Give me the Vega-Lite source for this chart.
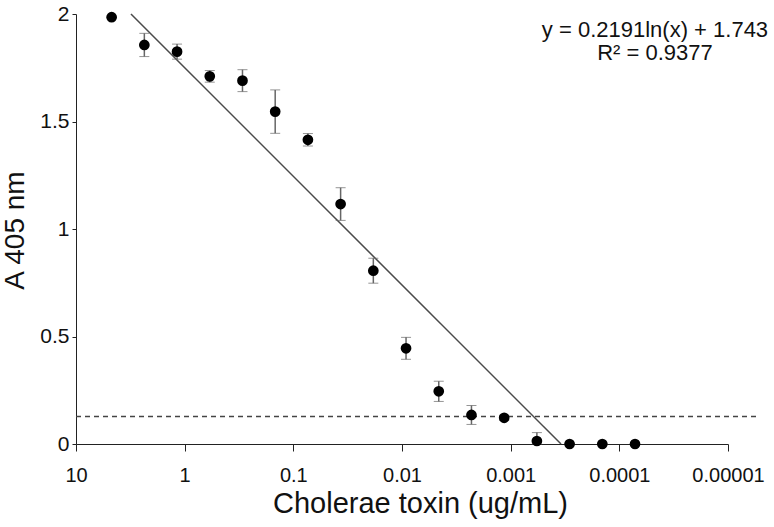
{
  "$schema": "https://vega.github.io/schema/vega-lite/v6.json",
  "width": 652,
  "height": 430,
  "autosize": "none",
  "padding": {"left": 76, "top": 14, "right": 46, "bottom": 83},
  "background": "white",
  "config": {
    "view": {"stroke": null},
    "font": "Liberation Sans",
    "axis": {"grid": false, "domainColor": "#222", "tickColor": "#222", "labelColor": "#111", "titleColor": "#111", "labelFont": "Liberation Sans", "titleFont": "Liberation Sans", "titleFontWeight": "normal"}
  },
  "data": {
    "values": [
      {"conc": 4.7, "a405": 1.985, "err": 0},
      {"conc": 2.35, "a405": 1.856, "err": 0.054},
      {"conc": 1.175, "a405": 1.825, "err": 0.035},
      {"conc": 0.5875, "a405": 1.71, "err": 0.027},
      {"conc": 0.29375, "a405": 1.69, "err": 0.051},
      {"conc": 0.146875, "a405": 1.546, "err": 0.101},
      {"conc": 0.0734375, "a405": 1.415, "err": 0.029},
      {"conc": 0.03671875, "a405": 1.116, "err": 0.076},
      {"conc": 0.018359375, "a405": 0.806, "err": 0.058},
      {"conc": 0.0091796875, "a405": 0.445, "err": 0.051},
      {"conc": 0.00458984375, "a405": 0.245, "err": 0.047},
      {"conc": 0.002294921875, "a405": 0.135, "err": 0.044},
      {"conc": 0.0011474609375, "a405": 0.122, "err": 0.012},
      {"conc": 0.00057373046875, "a405": 0.014, "err": 0.039},
      {"conc": 0.000286865234375, "a405": 0, "err": 0},
      {"conc": 0.0001434326171875, "a405": 0, "err": 0},
      {"conc": 0.00007171630859375, "a405": 0, "err": 0}
    ]
  },
  "layer": [
    {
      "data": {"values": [{"cutoff": 0.128}]},
      "mark": {"type": "rule", "strokeDash": [5, 4], "color": "#444", "strokeWidth": 1.6, "clip": false},
      "encoding": {
        "x": {"datum": 10, "type": "quantitative", "scale": {"type": "log", "domain": [0.00001, 10], "reverse": true}, "title": "Cholerae toxin (ug/mL)"},
        "x2": {"datum": 0.0000054},
        "y": {"field": "cutoff", "type": "quantitative", "title": "A 405 nm"}
      }
    },
    {
      "data": {"values": [{"conc": 3.12, "fit": 2.0}, {"conc": 0.000344, "fit": 0}]},
      "mark": {"type": "line", "color": "#4a4a4a", "strokeWidth": 1.5},
      "encoding": {
        "x": {"field": "conc", "type": "quantitative", "title": "Cholerae toxin (ug/mL)"},
        "y": {"field": "fit", "type": "quantitative", "title": "A 405 nm"}
      }
    },
    {
      "mark": {"type": "errorbar", "color": "#666", "ticks": {"size": 10, "color": "#666"}, "rule": {"strokeWidth": 1.5}},
      "encoding": {
        "x": {"field": "conc", "type": "quantitative", "title": "Cholerae toxin (ug/mL)"},
        "y": {"field": "a405", "type": "quantitative", "title": "A 405 nm"},
        "yError": {"field": "err"}
      }
    },
    {
      "mark": {"type": "point", "filled": true, "color": "#000", "size": 115, "opacity": 1},
      "encoding": {
        "x": {
          "field": "conc", "type": "quantitative",
          "scale": {"type": "log", "domain": [0.00001, 10], "reverse": true},
          "title": "Cholerae toxin (ug/mL)",
          "axis": {
            "values": [10, 1, 0.1, 0.01, 0.001, 0.0001, 0.00001],
            "labelExpr": "format(datum.value, '~f')",
            "labelOverlap": false, "labelBound": false, "labelFlush": false,
            "labelFontSize": 20, "labelPadding": 14, "tickSize": 7,
            "titleFontSize": 29,
            "titleX": 344, "titleY": 59, "titleBaseline": "middle", "titleAnchor": "middle"
          }
        },
        "y": {
          "field": "a405", "type": "quantitative",
          "scale": {"domain": [0, 2], "clamp": true},
          "title": "A 405 nm",
          "axis": {
            "values": [0, 0.5, 1, 1.5, 2],
            "format": "~g",
            "labelOverlap": false,
            "labelFontSize": 21, "labelPadding": 3, "tickSize": 4,
            "titleFontSize": 28,
            "titleX": -61, "titleY": 216, "titleAngle": -90, "titleBaseline": "middle", "titleAlign": "center"
          }
        }
      }
    },
    {
      "data": {"values": [{"label": "y = 0.2191ln(x)  + 1.743", "conc": 0.000047, "a405": 1.926}, {"label": "R² = 0.9377", "conc": 0.000047, "a405": 1.819}]},
      "mark": {"type": "text", "fontSize": 22, "align": "center", "baseline": "middle", "color": "#111", "clip": false},
      "encoding": {
        "text": {"field": "label"},
        "x": {"field": "conc", "type": "quantitative", "title": "Cholerae toxin (ug/mL)"},
        "y": {"field": "a405", "type": "quantitative", "title": "A 405 nm"}
      }
    }
  ]
}
